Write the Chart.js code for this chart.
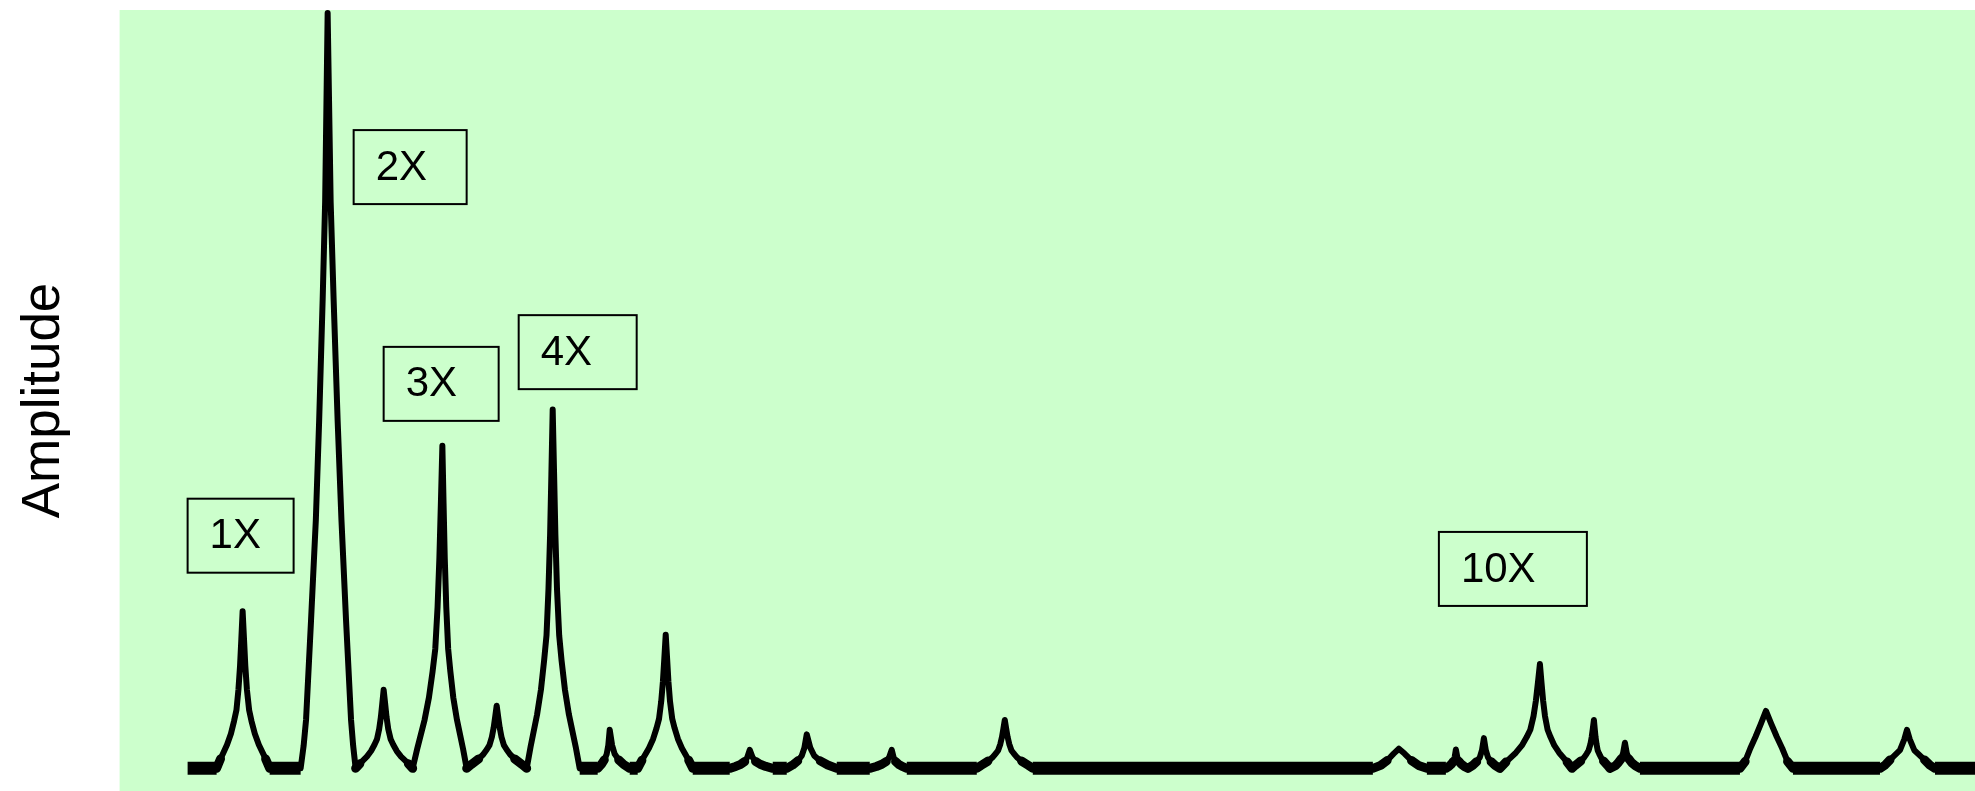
<!DOCTYPE html>
<html>
<head>
<meta charset="utf-8">
<title>Amplitude spectrum</title>
<script src="https://cdn.jsdelivr.net/npm/chart.js@4.4.1/dist/chart.umd.min.js"></script>
<style>
  html, body { margin: 0; padding: 0; background: #ffffff; }
  #wrap { width: 1975px; height: 791px; }
</style>
</head>
<body>
<div id="wrap"><canvas id="grafico"></canvas></div>
<script>
// spectrum (frequency in arbitrary units, amplitude 0-100)
// one line per peak, same layout in both arrays
const freq = [
  68,
  97, 100.9, 107.4, 111.3, 114.4, 116.8, 118.8, 120.4, 121.7, 123, 124.4, 125.7, 127.3, 129.5, 131.9, 135.2, 139.2, 146, 150,
  181, 184, 186.4, 191.4, 196.2, 199.5, 203, 205.5, 208, 211, 214, 218, 221.8, 226.4, 231.4, 233.5, 236,
  240.2, 247.2, 251.4, 254.8, 257.3, 259.5, 261.2, 262.6, 264, 265.5, 266.9, 268.6, 271, 273.6, 277.1, 281.4, 288.7, 293,
  297.5, 304.9, 309.3, 312.9, 315.6, 317.9, 319.7, 321.2, 322.7, 323.9, 325.1, 326.6, 328.5, 330.7, 333.6, 337.3, 343.4, 347,
  351.5, 359, 363.5, 367.1, 369.8, 372.2, 374, 375.5, 377, 378.5, 380, 381.8, 384.2, 386.9, 390.5, 395, 402.5, 407,
  410.9, 417.4, 421.3, 424.4, 426.8, 428.8, 430.4, 431.7, 433, 434.4, 435.7, 437.3, 439.5, 441.9, 445.2, 449.2, 456, 460,
  478, 481.6, 484.6, 487, 488.6, 490, 492.4, 495, 499, 504, 510,
  518, 522.2, 529.2, 533.4, 536.8, 539.3, 541.5, 543.2, 544.6, 546, 547.4, 548.7, 550.3, 552.5, 554.9, 558.2, 562.2, 569, 573,
  610, 616, 621, 625, 627.6, 630, 632.8, 635.8, 640.4, 646.1, 653,
  667, 673, 678, 682, 684.6, 687, 690.6, 694.5, 700.5, 708, 717,
  750, 756.6, 762.1, 766.5, 769.4, 772, 773.8, 775.8, 778.8, 782.5, 787,
  857, 861.2, 868.2, 872.4, 875.8, 878.3, 880.5, 882.2, 883.6, 885, 886.4, 887.8, 889.5, 891.7, 894.2, 897.6, 901.8, 908.8, 913,
  1253, 1260.8, 1267.3, 1273.8, 1279, 1284.6, 1291.6, 1298.6, 1307,
  1326, 1329, 1331.5, 1333.5, 1334.8, 1336, 1337.4, 1339, 1341.4, 1344.4, 1348,
  1352.8, 1356.8, 1360, 1362.1, 1364, 1365.9, 1368, 1371.2, 1375.2, 1380,
  1386, 1396, 1402, 1406.8, 1410.4, 1413.6, 1416, 1418, 1420, 1421.6, 1423.2, 1425.1, 1427.7, 1430.6, 1434.4, 1439.2, 1447.2, 1452,
  1455.3, 1460.8, 1464.1, 1466.7, 1468.7, 1470.5, 1471.8, 1472.9, 1474, 1474.8, 1475.6, 1476.6, 1477.8, 1479.3, 1481.2, 1483.6, 1487.6, 1490,
  1495.5, 1498.3, 1501.3, 1503.2, 1505, 1506.8, 1508.8, 1511.8, 1515.5, 1520,
  1620, 1625.2, 1630.4, 1635.6, 1640.8, 1646, 1651.4, 1656.8, 1662.2, 1667.6, 1673,
  1760, 1764.9, 1770, 1780, 1784.3, 1787, 1789.8, 1794.3, 1804.6, 1810, 1815,
  1855
];
const amp = [
  0,
  0, 1.25, 3.12, 4.58, 6.24, 7.7, 10.4, 13.52, 17.06, 20.8, 17.06, 13.52, 10.4, 7.7, 6.24, 4.58, 3.12, 1.25, 0,
  0, 3, 6.4, 19.6, 32.9, 46, 62, 75, 100, 75, 62, 46, 32.9, 19.6, 6.4, 3, 0,
  0.62, 1.56, 2.29, 3.12, 3.85, 5.2, 6.76, 8.53, 10.4, 8.53, 6.76, 5.2, 3.85, 3.12, 2.29, 1.56, 0.62, 0,
  2.56, 6.41, 9.39, 12.81, 15.8, 21.35, 27.76, 35.01, 42.7, 35.01, 27.76, 21.35, 15.8, 12.81, 9.39, 6.41, 2.56, 0,
  0.5, 1.25, 1.83, 2.49, 3.07, 4.15, 5.4, 6.81, 8.3, 6.81, 5.4, 4.15, 3.07, 2.49, 1.83, 1.25, 0.5, 0,
  2.85, 7.13, 10.45, 14.25, 17.58, 23.75, 30.88, 38.95, 47.5, 38.95, 30.88, 23.75, 17.58, 14.25, 10.45, 7.13, 2.85, 0,
  0, 0.51, 1.12, 1.89, 3.06, 5.1, 3.06, 1.89, 1.12, 0.51, 0,
  0, 1.06, 2.66, 3.89, 5.31, 6.55, 8.85, 11.5, 14.51, 17.7, 14.51, 11.5, 8.85, 6.55, 5.31, 3.89, 2.66, 1.06, 0,
  0, 0.25, 0.54, 0.91, 1.47, 2.45, 1.47, 0.91, 0.54, 0.25, 0,
  0, 0.45, 0.99, 1.67, 2.7, 4.5, 2.7, 1.67, 0.99, 0.45, 0,
  0, 0.25, 0.54, 0.91, 1.47, 2.45, 1.47, 0.91, 0.54, 0.25, 0,
  0, 0.38, 0.96, 1.41, 1.92, 2.37, 3.2, 4.16, 5.25, 6.4, 5.25, 4.16, 3.2, 2.37, 1.92, 1.41, 0.96, 0.38, 0,
  0, 0.39, 1.04, 1.95, 2.6, 1.95, 1.04, 0.39, 0,
  0, 0.25, 0.55, 0.93, 1.5, 2.5, 1.5, 0.93, 0.55, 0.25, 0,
  0.4, 0.88, 1.48, 2.4, 4, 2.4, 1.48, 0.88, 0.4, 0,
  0.83, 2.07, 3.04, 4.14, 5.11, 6.9, 8.97, 11.32, 13.8, 11.32, 8.97, 6.9, 5.11, 4.14, 3.04, 2.07, 0.83, 0,
  0.38, 0.96, 1.41, 1.92, 2.37, 3.2, 4.16, 5.25, 6.4, 5.25, 4.16, 3.2, 2.37, 1.92, 1.41, 0.96, 0.38, 0,
  0.34, 0.75, 1.26, 2.04, 3.4, 2.04, 1.26, 0.75, 0.34, 0,
  0, 0.91, 2.66, 4.18, 5.85, 7.6, 5.85, 4.18, 2.66, 0.91, 0,
  0, 0.41, 1.12, 2.4, 3.83, 5.1, 3.83, 2.4, 1.12, 0.41, 0,
  0
];

// order labels and where their boxes sit (top-left corner, in data units)
const labelText = ["1X", "2X", "3X", "4X", "10X"];
const labelFreq = [68, 234, 264, 399, 1319];
const labelAmp = [35.7, 84.5, 55.8, 60.0, 31.3];

const fuente = "'Liberation Sans', Arial, sans-serif";
const boxWidths = [106, 113, 115, 118, 148]; // px
const boxHeight = 74;

const fondo = {
  id: "fondo",
  beforeDraw(chart) {
    const { ctx, chartArea: a } = chart;
    ctx.save();
    ctx.fillStyle = "#ccffcc";
    ctx.fillRect(a.left, a.top, a.right - a.left, a.bottom - a.top);
    ctx.restore();
  }
};

const etiquetas = {
  id: "etiquetas",
  afterDatasetsDraw(chart) {
    const { ctx, scales } = chart;
    ctx.save();
    ctx.strokeStyle = "#000";
    ctx.lineWidth = 2;
    ctx.fillStyle = "#000";
    ctx.font = "42px " + fuente;
    ctx.textBaseline = "middle";
    ctx.textAlign = "left";
    labelText.forEach((t, i) => {
      const x = scales.x.getPixelForValue(labelFreq[i]);
      const y = scales.y.getPixelForValue(labelAmp[i]);
      ctx.strokeRect(x, y, boxWidths[i], boxHeight);
      ctx.fillText(t, x + 22, y + boxHeight / 2 + 1);
    });
    ctx.restore();
  }
};

// the noise floor looks like a thick band, thinning out as the line rises
function pico(c) {
  return Math.max(c.p0.parsed.y, c.p1.parsed.y);
}
function grosor(c) {
  const m = pico(c);
  if (m === 0) return 13;
  if (m <= 1.3) return 9;
  return undefined;
}
function remate(c) {
  return pico(c) === 0 ? "butt" : undefined;
}

const ctx = document.getElementById("grafico").getContext("2d");

new Chart(ctx, {
  type: "line",
  data: {
    datasets: [{
      label: "Amplitude",
      data: freq.map((f, i) => ({ x: f, y: amp[i] })),
      borderColor: "#000",
      borderWidth: 6,
      borderJoinStyle: "round",
      borderCapStyle: "round",
      tension: 0,
      pointRadius: 0,
      fill: false,
      segment: { borderWidth: grosor, borderCapStyle: remate }
    }]
  },
  options: {
    responsive: true,
    maintainAspectRatio: false,
    animation: false,
    events: [],
    layout: { padding: { left: 9, top: 10, right: 0, bottom: 0 } },
    plugins: {
      legend: { display: false },
      tooltip: { enabled: false }
    },
    scales: {
      x: {
        type: "linear",
        min: 0,
        max: 1855,
        display: false
      },
      y: {
        min: -3,
        max: 100.4,
        ticks: { display: false },
        grid: { display: false, drawTicks: false },
        border: { display: false },
        title: {
          display: true,
          text: "Amplitude",
          color: "#000",
          font: { family: fuente, size: 53 },
          padding: { top: 4, bottom: 43 }
        }
      }
    }
  },
  plugins: [fondo, etiquetas]
});
</script>
</body>
</html>
